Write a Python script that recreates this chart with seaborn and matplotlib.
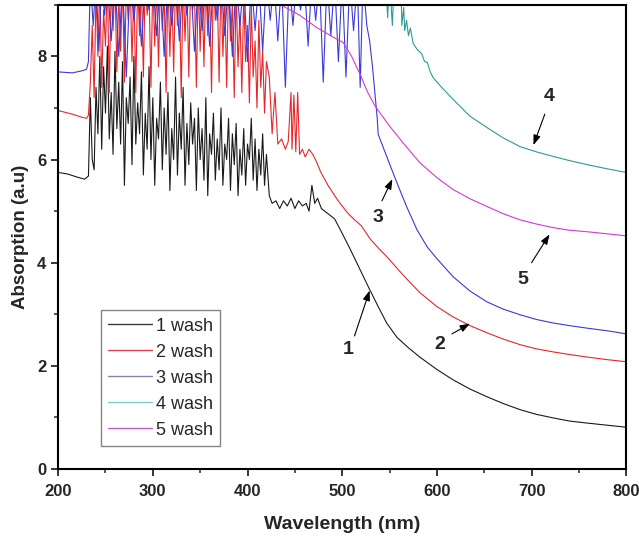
import numpy as np
import pandas as pd
import matplotlib
matplotlib.use("Agg")
import matplotlib.pyplot as plt
import seaborn as sns
from matplotlib.ticker import MultipleLocator

# ---------------- data ----------------
wl_1 = [200, 210, 220, 228, 232,
        234, 236, 238, 240, 242, 244, 246, 248, 250, 252, 254, 256, 258, 260, 262, 264,
        266, 268, 270, 272, 274, 276, 278, 280, 282, 284, 286, 288, 290, 292, 294, 296,
        298, 300, 302, 304, 306, 308, 310, 312, 314, 316, 318, 320, 322, 324, 326, 328,
        330, 332, 334, 336, 338, 340, 342, 344, 346, 348, 350, 352, 354, 356, 358, 360,
        362, 364, 366, 368, 370, 372, 374, 376, 378, 380, 382, 384, 386, 388, 390, 392,
        394, 396, 398, 400, 402, 404, 406, 408, 410, 412, 414, 416, 418, 420,
        423, 426, 430, 434, 438, 442, 446, 450, 454, 458, 462, 465, 468, 471, 474, 478,
        485, 492, 498, 508, 518, 529, 538, 547, 558, 570, 582, 600, 617, 635, 653, 670,
        688, 705, 723, 740, 759, 780, 800]
abs_1 = [5.75, 5.72, 5.66, 5.62, 5.68,
         7.2, 6.0, 5.8, 7.4, 6.5, 8.0, 6.2, 7.8, 6.9, 8.2, 6.4, 7.3, 6.1, 8.1, 6.6, 7.5,
         6.3, 7.9, 5.5, 7.2, 6.7, 7.6, 5.9, 8.0, 6.3, 7.1, 6.5, 7.7, 5.7, 6.9, 6.2, 7.8,
         6.0, 7.2, 5.5, 6.8, 6.4, 7.5, 5.8, 7.0, 6.1, 7.3, 5.4, 6.6, 6.0, 7.6, 5.7, 6.9,
         6.2, 7.4, 5.5, 6.7, 5.9, 7.1, 6.3, 6.8, 5.4, 7.0, 6.0, 6.6, 5.6, 7.2, 5.3, 6.5,
         6.1, 6.9, 5.6, 6.4, 5.8, 7.0, 5.5, 6.3, 6.0, 6.8, 5.4, 6.5, 5.9, 6.7, 5.3, 6.2,
         5.7, 6.6, 5.5, 6.3, 6.0, 6.8, 5.6, 6.4, 5.4, 6.2, 5.7, 6.5, 5.5, 6.1,
         5.3, 5.15, 5.2, 5.05, 5.2, 5.1, 5.25, 5.05, 5.2, 5.1, 5.15, 5.0, 5.5, 5.15, 5.25, 5.05,
         4.95, 4.85, 4.64, 4.28, 3.9, 3.48, 3.15, 2.83, 2.55, 2.35, 2.17, 1.93, 1.73, 1.55, 1.40, 1.27,
         1.15, 1.06, 0.99, 0.93, 0.89, 0.85, 0.81]

wl_2 = [200, 215, 225, 230, 232,
        234, 236, 238, 240, 242, 244, 246, 248, 250, 252, 254, 256, 258, 260, 262, 264,
        266, 268, 270, 272, 274, 276, 278, 280, 282, 284, 286, 288, 290, 292, 294, 296,
        298, 300, 302, 304, 306, 308, 310, 312, 314, 316, 318, 320, 322, 324, 326, 328,
        330, 332, 334, 336, 338, 340, 342, 344, 346, 348, 350, 352, 354, 356, 358, 360,
        362, 364, 366, 368, 370, 372, 374, 376, 378, 380, 382, 384, 386, 388, 390, 392,
        394, 396, 398, 400, 402, 404, 406, 408, 410, 412, 414, 416, 418, 420,
        423, 426, 429, 432, 436, 440, 443, 446, 447, 449, 451, 453, 455, 458, 461, 465,
        469, 473, 477, 485, 495, 505, 512, 520, 530, 540, 547, 560, 570, 582, 600, 617,
        635, 653, 670, 688, 705, 723, 740, 759, 780, 800]
abs_2 = [6.95, 6.88, 6.82, 6.8, 6.86,
         7.5, 8.6, 7.2, 9.3, 8.0, 9.5, 7.4, 8.9, 8.2, 9.5, 7.3, 9.4, 8.5, 9.5, 7.7, 9.2,
         8.1, 9.5, 7.5, 9.4, 8.7, 9.5, 7.9, 9.3, 7.3, 9.5, 8.4, 9.4, 7.6, 9.5, 8.8, 9.3,
         7.4, 9.5, 8.2, 9.4, 7.8, 9.5, 8.5, 9.2, 7.3, 9.5, 8.0, 9.4, 7.7, 9.5, 8.6, 9.3,
         7.2, 9.5, 8.3, 9.4, 7.6, 9.5, 8.9, 9.2, 7.4, 9.5, 8.1, 9.4, 7.8, 9.5, 8.4, 9.3,
         7.3, 9.5, 8.7, 9.4, 7.5, 9.5, 8.0, 9.2, 7.4, 9.5, 8.3, 9.0, 7.2, 9.3, 7.8, 8.8,
         7.3, 9.2, 7.9, 8.6, 7.1, 9.0, 7.6, 8.3, 7.0, 8.7, 7.4, 8.1, 6.9, 7.9,
         7.6, 6.5, 7.3, 6.3, 6.4, 6.2, 6.35, 7.3, 6.2, 7.25, 6.15, 7.3, 6.1, 6.2, 6.05, 6.2,
         6.1, 5.95, 5.77, 5.5, 5.22, 4.98, 4.85, 4.72, 4.45, 4.25, 4.12, 3.85, 3.65, 3.42, 3.15, 2.95,
         2.78, 2.64, 2.52, 2.41, 2.33, 2.27, 2.22, 2.17, 2.12, 2.08]

wl_3 = [200, 215, 225, 230, 232,
        234, 237, 240, 243, 246, 249, 252, 256, 260, 264, 268, 272, 276, 280, 284, 288,
        292, 296, 300, 304, 308, 312, 316, 320, 324, 328, 332, 336, 340, 344, 348, 352,
        356, 360, 364, 368, 372, 376, 380, 384, 388, 392, 396, 400, 404, 408, 412, 416,
        420, 424, 428, 432, 436, 440, 444, 448, 452, 456, 460, 464, 468, 472, 476, 480,
        484, 488, 492, 496, 500, 504, 508, 512, 516, 519, 522, 526, 529, 532, 535, 537,
        538, 542, 551, 560, 568, 579, 590, 600, 617, 635, 653, 670, 688, 705, 723, 740,
        759, 780, 800]
abs_3 = [7.7, 7.68, 7.72, 7.75, 7.9,
         9.5, 8.6, 9.5, 8.1, 9.5, 8.8, 9.5, 8.3, 9.5, 8.0, 9.5, 7.6, 9.5, 8.7, 9.5, 8.2,
         9.5, 8.9, 9.5, 8.4, 9.5, 8.0, 9.5, 8.6, 9.5, 8.3, 9.5, 8.8, 9.5, 8.1, 9.5, 8.5,
         9.5, 8.2, 9.5, 8.7, 9.5, 8.4, 9.5, 8.0, 9.5, 8.6, 9.5, 7.9, 9.5, 8.5, 9.5, 8.1,
         9.5, 8.7, 9.5, 8.3, 9.5, 7.4, 9.5, 8.6, 9.5, 8.9, 9.5, 8.2, 9.5, 8.7, 9.5, 7.5,
         9.5, 8.4, 9.5, 7.9, 9.5, 7.6, 9.5, 8.5, 9.5, 7.4, 9.5, 8.6, 8.3, 7.8, 7.2, 6.8,
         6.49, 6.3, 5.87, 5.45, 5.09, 4.64, 4.3, 4.08, 3.73, 3.45, 3.24, 3.1, 2.99, 2.9, 2.83, 2.78,
         2.73, 2.68, 2.62]

wl_4 = [200, 540, 546, 548, 550, 553, 555, 562, 563, 565, 566, 568, 570, 572, 575, 579,
        584, 587, 590, 593, 596, 605, 617, 635, 653, 670, 688, 705, 723, 740, 759, 780, 800]
abs_4 = [9.6, 9.6, 9.5, 8.75, 9.5, 8.6, 9.5, 9.5, 8.6, 8.95, 8.5, 8.7, 8.4, 8.55, 8.25, 8.14,
         8.05, 7.9, 7.88, 7.7, 7.59, 7.4, 7.17, 6.84, 6.62, 6.42, 6.25, 6.15, 6.06, 5.98, 5.90, 5.82, 5.75]

wl_5 = [200, 420, 438, 455, 473, 490, 501, 510, 519, 527, 535, 550, 564, 582, 600, 617,
        635, 653, 670, 688, 705, 723, 740, 759, 780, 800]
abs_5 = [9.6, 9.15, 8.97, 8.8, 8.56, 8.38, 8.27, 8.0, 7.65, 7.3, 7.03, 6.65, 6.33, 5.94, 5.65, 5.42,
         5.24, 5.09, 4.95, 4.83, 4.75, 4.68, 4.63, 4.60, 4.56, 4.52]

series_names = ["1 wash", "2 wash", "3 wash", "4 wash", "5 wash"]
line_colors = ["#1a1a1a", "#e8262a", "#3a3ad6", "#2f9a96", "#d23ad2"]
legend_colors = ["#3a3a3a", "#e04050", "#9080b0", "#80cccc", "#c060d0"]

# annotation labels: (text, text pos, arrow tail, arrow head)
ann_labels = ["1", "2", "3", "4", "5"]
ann_text_xy = [(506, 2.31), (603, 2.41), (538, 4.87), (719, 7.22), (691, 3.67)]
ann_tail_xy = [(513, 2.58), (616, 2.62), (542, 5.2), (714, 6.88), (700, 4.0)]
ann_head_xy = [(529, 3.46), (635, 2.82), (553, 5.62), (702, 6.28), (719, 4.55)]

# ---------------- build table ----------------
frames = []
for name, w, a in zip(series_names, [wl_1, wl_2, wl_3, wl_4, wl_5],
                      [abs_1, abs_2, abs_3, abs_4, abs_5]):
    n = min(len(w), len(a))
    frames.append(pd.DataFrame({"Wavelength": w[:n], "Absorption": a[:n], "Sample": name}))
df = pd.concat(frames, ignore_index=True)

sns.set_theme(style="ticks")
plt.rcParams["font.family"] = ["Liberation Sans", "DejaVu Sans"]

fig = plt.figure(figsize=(6.39, 5.36), dpi=100)
ax = fig.add_axes([0.091, 0.125, 0.889, 0.866])

sns.lineplot(data=df, x="Wavelength", y="Absorption", hue="Sample",
             hue_order=series_names, palette=line_colors, estimator=None,
             sort=False, linewidth=0.8, ax=ax)

ax.set_xlim(200, 800)
ax.set_ylim(0, 9)
ax.xaxis.set_major_locator(MultipleLocator(100))
ax.xaxis.set_minor_locator(MultipleLocator(50))
ax.yaxis.set_major_locator(MultipleLocator(2))
ax.yaxis.set_minor_locator(MultipleLocator(1))
ax.tick_params(which="major", direction="out", length=5, width=1.3, labelsize=12)
ax.tick_params(axis="x", which="major", pad=6)
ax.tick_params(which="minor", direction="out", length=3, width=1.1)
for lab in ax.get_xticklabels() + ax.get_yticklabels():
    lab.set_fontweight("bold")
for sp in ax.spines.values():
    sp.set_visible(True)
    sp.set_linewidth(1.5)
    sp.set_color("black")

ax.set_xlabel("Wavelength (nm)", fontsize=14, fontweight="bold", labelpad=12)
ax.set_ylabel("Absorption (a.u)", fontsize=13.5, fontweight="bold", labelpad=6)

# legend
leg = ax.legend(loc="lower left", bbox_to_anchor=(0.0757, 0.0496), fontsize=13,
                frameon=True, fancybox=False, edgecolor="#666666",
                handlelength=2.4, handletextpad=0.25, borderpad=0.4,
                labelspacing=0.5, borderaxespad=0)
leg.get_frame().set_linewidth(1.0)
for h, c in zip(leg.get_lines(), legend_colors):
    h.set_color(c)
    h.set_linewidth(1.0)

for t, txy, tail, head in zip(ann_labels, ann_text_xy, ann_tail_xy, ann_head_xy):
    ax.text(txy[0], txy[1], t, fontsize=14, fontweight="bold", ha="center", va="center")
    ax.annotate("", xy=head, xytext=tail,
                arrowprops=dict(arrowstyle="-|>,head_length=0.5,head_width=0.18",
                                color="black", lw=0.8, shrinkA=0, shrinkB=0))

fig.savefig("out.png", dpi=100)
